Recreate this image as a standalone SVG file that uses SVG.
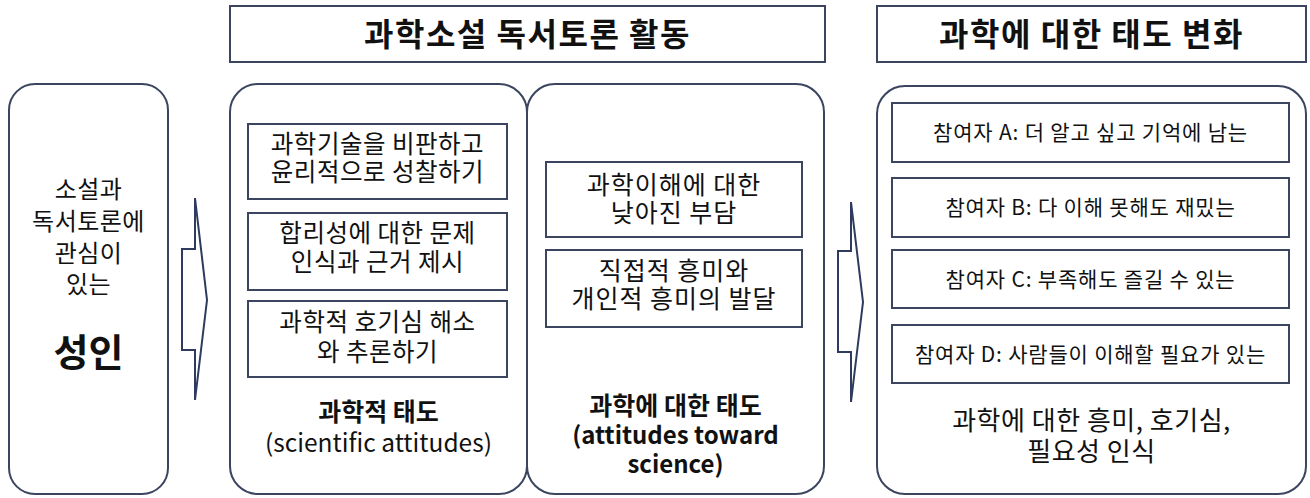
<svg xmlns="http://www.w3.org/2000/svg" width="1310" height="498" viewBox="0 0 1310 498">
<style>
.box{fill:#fff;stroke:#3b4560;stroke-width:2}
.arr{fill:none;stroke:#2e3a5e;stroke-width:2;stroke-linejoin:miter}
text{font-family:"Noto Sans CJK KR","Noto Sans",sans-serif;fill:#111;text-anchor:middle}
.t{font-size:32px;font-weight:bold;letter-spacing:1.5px}
.b{font-size:24.5px;letter-spacing:0.5px}
.m{font-size:25px;letter-spacing:1px}
.w{font-size:26px;letter-spacing:0.5px}
.l{font-size:24px;letter-spacing:0.5px}
.r{font-size:21px;letter-spacing:0.8px}
.h{font-size:24px;font-weight:bold}
.k{font-size:25px;font-weight:bold}
.e{font-size:24.5px}
.big{font-size:38px;font-weight:bold}
</style>
<rect width="1310" height="498" fill="#fff"/>
<g id="title1"><rect class="box" x="230" y="6" width="595" height="56"/><text class="t" x="527.5" y="46">과학소설 독서토론 활동</text></g>
<g id="title2"><rect class="box" x="877" y="6" width="429" height="56"/><text class="t" x="1091.5" y="46">과학에 대한 태도 변화</text></g>
<g id="adult"><rect class="box" x="9" y="84" width="159" height="410" rx="26"/>
<text class="l" x="88.5" y="198">소설과</text>
<text class="l" x="88.5" y="230">독서토론에</text>
<text class="l" x="88.5" y="262">관심이</text>
<text class="l" x="88.5" y="293">있는</text>
<text class="big" x="88.5" y="366">성인</text></g>
<g id="sci-attitudes"><rect class="box" x="230" y="84" width="297" height="410" rx="28"/>
<text class="k" x="378.5" y="421">과학적 태도</text>
<text class="e" x="378.5" y="452">(scientific attitudes)</text></g>
<g id="att-science"><rect class="box" x="527" y="84" width="297" height="410" rx="28"/>
<text class="k" x="675.5" y="415">과학에 대한 태도</text>
<text class="h" x="675.5" y="444">(attitudes toward</text>
<text class="h" x="675.5" y="473">science)</text></g>
<g id="sa1"><rect class="box" x="248" y="124" width="259" height="75"/><text class="b" x="377.5" y="153">과학기술을 비판하고</text><text class="b" x="377.5" y="181">윤리적으로 성찰하기</text></g>
<g id="sa2"><rect class="box" x="248" y="213" width="259" height="77"/><text class="b" x="377.5" y="242">합리성에 대한 문제</text><text class="b" x="377.5" y="271">인식과 근거 제시</text></g>
<g id="sa3"><rect class="box" x="248" y="301" width="259" height="76"/><text class="b" x="377.5" y="331">과학적 호기심 해소</text><text class="b" x="377.5" y="361">와 추론하기</text></g>
<g id="as1"><rect class="box" x="546" y="162" width="256" height="75"/><text class="m" x="674" y="194">과학이해에 대한</text><text class="m" x="674" y="222">낮아진 부담</text></g>
<g id="as2"><rect class="box" x="546" y="250" width="256" height="77"/><text class="m" x="674" y="280">직접적 흥미와</text><text class="m" x="674" y="308">개인적 흥미의 발달</text></g>
<g id="change"><rect class="box" x="877" y="86" width="429" height="408" rx="28"/>
<text class="w" x="1091.5" y="430">과학에 대한 흥미, 호기심,</text>
<text class="w" x="1091.5" y="461">필요성 인식</text></g>
<g id="pA"><rect class="box" x="892" y="103" width="397" height="59"/><text class="r" x="1090.5" y="140">참여자 A: 더 알고 싶고 기억에 남는</text></g>
<g id="pB"><rect class="box" x="892" y="178" width="397" height="59"/><text class="r" x="1090.5" y="215">참여자 B: 다 이해 못해도 재밌는</text></g>
<g id="pC"><rect class="box" x="892" y="250" width="397" height="58"/><text class="r" x="1090.5" y="287">참여자 C: 부족해도 즐길 수 있는</text></g>
<g id="pD"><rect class="box" x="892" y="325" width="397" height="58"/><text class="r" x="1090.5" y="362">참여자 D: 사람들이 이해할 필요가 있는</text></g>
<g id="connectors">
<polygon class="arr" points="195,198 207,300 195,400 195,350 182,350 182,249 195,249"/>
<polygon class="arr" points="851,202 863,302 851,402 851,352 838,352 838,251 851,251"/>
</g>
</svg>
